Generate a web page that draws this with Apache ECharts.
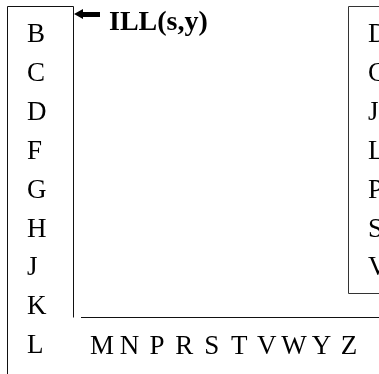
<!DOCTYPE html>
<html>
<head>
<meta charset="utf-8">
<script src="https://cdn.jsdelivr.net/npm/echarts@6/dist/echarts.min.js"></script>
<style>html,body{margin:0;padding:0;background:#fff;}#c{width:379px;height:374px;}</style>
</head>
<body>
<div id="c"></div>
<script>
const leftLetters = ['B','C','D','F','G','H','J','K','L'];
const rightLetters = ['D','C','J','L','P','S','V'];
const bottomLetters = ['M','N','P','R','S','T','V','W','Y','Z'];
const titleText = 'ILL(s,y)';

const FONT = '"Liberation Serif", "Times New Roman", serif';
const ROW = 38.9;
const lbl = { inside: true, margin: 0, align: 'left', fontFamily: FONT, fontSize: 27, color: '#000' };
const hide = { axisLine: { show: false }, axisTick: { show: false }, splitLine: { show: false } };

const chart = echarts.init(document.getElementById('c'), null, { renderer: 'canvas' });
chart.setOption({
  animation: false,
  backgroundColor: '#fff',
  title: { text: titleText, left: 104, top: 4, textStyle: { fontFamily: FONT, fontSize: 28, fontWeight: 'bold', color: '#000' } },
  grid: [
    { left: 27, top: 15.5, width: 40, height: ROW * leftLetters.length },
    { left: 368, top: 15.5, width: 10, height: ROW * rightLetters.length },
    { left: 88.3, top: 300, width: 274.4, height: 17 }
  ],
  xAxis: [
    { gridIndex: 0, type: 'value', show: false },
    { gridIndex: 1, type: 'value', show: false },
    Object.assign({ gridIndex: 2, type: 'category', data: bottomLetters,
      axisLabel: { margin: 16, fontFamily: FONT, fontSize: 27, color: '#000', interval: 0 } }, hide)
  ],
  yAxis: [
    Object.assign({ gridIndex: 0, type: 'category', inverse: true, data: leftLetters, axisLabel: Object.assign({ interval: 0 }, lbl) }, hide),
    Object.assign({ gridIndex: 1, type: 'category', inverse: true, data: rightLetters, axisLabel: Object.assign({ interval: 0 }, lbl) }, hide),
    { gridIndex: 2, type: 'value', show: false }
  ],
  series: [],
  graphic: [
    { type: 'polyline', shape: { points: [[7.5, 374], [7.5, 6.5], [73.5, 6.5], [73.5, 317.5]] }, style: { stroke: '#111', lineWidth: 1, fill: null } },
    { type: 'polyline', shape: { points: [[81, 317.5], [379, 317.5]] }, style: { stroke: '#111', lineWidth: 1 } },
    { type: 'polyline', shape: { points: [[379, 6.5], [348.5, 6.5], [348.5, 293.5], [379, 293.5]] }, style: { stroke: '#333', lineWidth: 1, fill: null } },
    { type: 'polygon', shape: { points: [[74, 14], [83, 9], [83, 12], [100, 12], [100, 17], [83, 17], [83, 19]] }, style: { fill: '#000' } }
  ]
});
</script>
</body>
</html>
